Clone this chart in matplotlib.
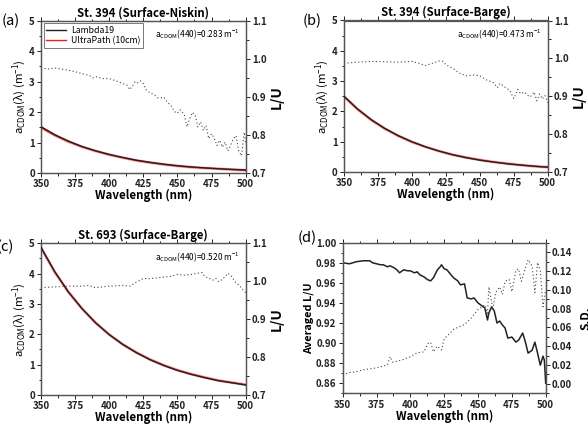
import numpy as np
import matplotlib
matplotlib.use("Agg")
import matplotlib.pyplot as plt
from matplotlib.ticker import MultipleLocator

plt.rcParams['font.family'] = ['Noto Sans CJK JP', 'DejaVu Sans']
plt.rcParams['mathtext.fontset'] = 'custom'
plt.rcParams['mathtext.rm'] = 'Noto Sans CJK JP'
plt.rcParams['mathtext.it'] = 'Noto Sans CJK JP'
plt.rcParams['mathtext.bf'] = 'Noto Sans CJK JP:bold'

# ---------------- data ----------------
wl = [350, 360, 370, 380, 390, 400, 410, 420, 430, 440, 450, 460, 470, 480, 490, 500]

a_lambda_a = [1.52, 1.26, 1.05, 0.87, 0.73, 0.61, 0.51, 0.42, 0.35, 0.29, 0.24, 0.20, 0.17, 0.14, 0.12, 0.10]
a_ultra_a = [1.49, 1.24, 1.03, 0.86, 0.72, 0.60, 0.50, 0.41, 0.34, 0.28, 0.23, 0.19, 0.16, 0.14, 0.11, 0.09]
a_lambda_b = [2.50, 2.08, 1.73, 1.44, 1.20, 1.00, 0.83, 0.69, 0.57, 0.47, 0.39, 0.33, 0.27, 0.23, 0.19, 0.16]
a_ultra_b = [2.49, 2.07, 1.72, 1.43, 1.19, 0.99, 0.83, 0.69, 0.57, 0.48, 0.40, 0.33, 0.28, 0.23, 0.19, 0.16]
a_lambda_c = [4.87, 4.07, 3.40, 2.85, 2.38, 1.99, 1.66, 1.39, 1.16, 0.97, 0.81, 0.68, 0.57, 0.47, 0.40, 0.33]
a_ultra_c = [4.85, 4.06, 3.40, 2.85, 2.38, 1.99, 1.67, 1.40, 1.17, 0.98, 0.82, 0.69, 0.58, 0.48, 0.41, 0.34]

wl_lu_a = [350, 355, 360, 365, 370, 375, 380, 385, 388, 390, 395, 400, 405, 410, 413, 415, 417, 419,
           421, 423, 425, 427, 430, 433, 436, 440, 443, 445, 448, 450, 452, 455, 457, 459, 461, 463,
           465, 467, 469, 471, 473, 475, 477, 479, 481, 483, 485, 487, 489, 491, 493, 495, 497, 499, 500]
lu_a = [0.976, 0.973, 0.976, 0.973, 0.970, 0.966, 0.961, 0.957, 0.950, 0.953, 0.948, 0.948, 0.942,
        0.935, 0.931, 0.919, 0.928, 0.940, 0.937, 0.942, 0.935, 0.919, 0.910, 0.906, 0.897, 0.899,
        0.884, 0.879, 0.861, 0.857, 0.866, 0.854, 0.821, 0.843, 0.859, 0.852, 0.821, 0.834, 0.812,
        0.825, 0.790, 0.803, 0.792, 0.772, 0.786, 0.768, 0.781, 0.758, 0.772, 0.790, 0.798, 0.758,
        0.745, 0.807, 0.780]

wl_lu_b = [350, 360, 370, 380, 390, 400, 405, 410, 415, 420, 423, 425, 430, 435, 440, 445, 450, 455,
           460, 463, 465, 468, 472, 475, 478, 480, 483, 485, 487, 490, 492, 494, 496, 498, 500]
lu_b = [0.987, 0.990, 0.992, 0.991, 0.990, 0.992, 0.987, 0.981, 0.987, 0.993, 0.992, 0.983, 0.974,
        0.961, 0.954, 0.956, 0.954, 0.943, 0.936, 0.923, 0.934, 0.925, 0.916, 0.894, 0.918, 0.907,
        0.911, 0.903, 0.898, 0.911, 0.888, 0.906, 0.893, 0.902, 0.883]

wl_lu_c = [350, 360, 370, 380, 385, 390, 400, 410, 415, 420, 425, 430, 440, 445, 450, 455, 460, 465,
           468, 470, 473, 476, 478, 480, 482, 485, 487, 490, 492, 495, 498, 500]
lu_c = [0.983, 0.985, 0.987, 0.987, 0.989, 0.983, 0.987, 0.989, 0.987, 0.998, 1.007, 1.007, 1.011,
        1.013, 1.018, 1.016, 1.018, 1.021, 1.023, 1.012, 1.008, 1.003, 1.008, 0.999, 1.003, 1.012,
        1.021, 1.012, 0.999, 0.990, 0.977, 0.970]

wl_d = [350, 355, 360, 365, 370, 372, 375, 378, 380, 383, 385, 388, 390, 392, 395, 398, 400, 403,
        405, 407, 410, 413, 415, 417, 420, 422, 423, 425, 427, 430, 432, 435, 437, 440, 442, 445,
        447, 450, 453, 455, 457, 458, 460, 462, 464, 466, 468, 470, 472, 475, 478, 480, 483, 485,
        487, 490, 492, 494, 496, 498, 499, 500]
avg_lu_d = [0.980, 0.979, 0.981, 0.982, 0.982, 0.980, 0.979, 0.978, 0.978, 0.976, 0.977, 0.975,
            0.973, 0.970, 0.973, 0.972, 0.972, 0.970, 0.971, 0.968, 0.966, 0.963, 0.962, 0.965,
            0.973, 0.976, 0.978, 0.974, 0.973, 0.968, 0.965, 0.962, 0.958, 0.959, 0.945, 0.944,
            0.945, 0.940, 0.937, 0.935, 0.923, 0.930, 0.936, 0.932, 0.920, 0.922, 0.918, 0.915,
            0.905, 0.906, 0.901, 0.903, 0.910, 0.901, 0.890, 0.893, 0.901, 0.890, 0.878, 0.887,
            0.883, 0.860]

wl_sd = [350, 355, 360, 365, 370, 375, 380, 383, 385, 387, 390, 395, 400, 405, 410, 413, 415, 417,
         420, 423, 425, 428, 432, 435, 440, 445, 450, 453, 455, 457, 458, 461, 463, 466, 468, 470,
         473, 475, 478, 480, 482, 485, 487, 490, 492, 494, 496, 498, 500]
sd_d = [0.0096, 0.012, 0.013, 0.015, 0.016, 0.017, 0.019, 0.020, 0.029, 0.023, 0.024, 0.026, 0.029,
        0.033, 0.034, 0.043, 0.044, 0.034, 0.040, 0.036, 0.048, 0.052, 0.058, 0.060, 0.063, 0.070,
        0.079, 0.082, 0.084, 0.075, 0.103, 0.079, 0.097, 0.103, 0.095, 0.109, 0.111, 0.098, 0.121,
        0.122, 0.109, 0.123, 0.132, 0.125, 0.097, 0.129, 0.121, 0.082, 0.100]

titles = ["St. 394 (Surface-Niskin)", "St. 394 (Surface-Barge)", "St. 693 (Surface-Barge)"]
annots = ["0.283", "0.473", "0.520"]
panel_letters = ["(a)", "(b)", "(c)", "(d)"]
x_ticks = [350, 375, 400, 425, 450, 475, 500]

# ---------------- figure ----------------
fig = plt.figure(figsize=(5.88, 4.28), dpi=100)
rects = [
    [41 / 588, 1 - 173 / 428, 204.6 / 588, 152.3 / 428],
    [344 / 588, 1 - 172 / 428, 203.7 / 588, 151.5 / 428],
    [41 / 588, 1 - 395 / 428, 204.7 / 588, 151.7 / 428],
    [342.7 / 588, 1 - 393.3 / 428, 203 / 588, 150.6 / 428],
]
spine_col = '#555555'
dot_style = (0, (1, 2.2))
tick_fs = 7
xlab_fs = 8.3
title_fs = 8.2
bold = 'bold'


def style_ax(ax):
    for s in ax.spines.values():
        s.set_color(spine_col)
        s.set_linewidth(0.9)
    ax.tick_params(axis='both', which='both', direction='out', labelsize=tick_fs,
                   colors='#222222', width=0.7, pad=1.5)
    ax.tick_params(which='major', length=3)
    ax.tick_params(which='minor', length=1.8)
    for lab in ax.get_xticklabels() + ax.get_yticklabels():
        lab.set_fontweight(bold)


data_l = [(a_lambda_a, a_ultra_a), (a_lambda_b, a_ultra_b), (a_lambda_c, a_ultra_c)]
data_lu = [(wl_lu_a, lu_a), (wl_lu_b, lu_b), (wl_lu_c, lu_c)]

for i in range(3):
    ax = fig.add_axes(rects[i])
    ax2 = ax.twinx()
    ax.set_zorder(ax2.get_zorder() + 1)
    ax.patch.set_visible(False)
    l1, = ax.plot(wl, data_l[i][0], color='#222222', lw=1.0, zorder=3, label='Lambda19')
    l2, = ax.plot(wl, data_l[i][1], color='#e8211f', lw=1.0, zorder=2, label='UltraPath (10cm)')
    ax.plot(wl, data_l[i][1], color='#f08080', lw=2.2, zorder=1, alpha=0.6)
    ax2.plot(data_lu[i][0], data_lu[i][1], color='#444444', lw=0.8, linestyle=dot_style)
    ax.set_xlim(350, 500)
    ax.set_ylim(0, 5)
    ax2.set_ylim(0.7, 1.1)
    ax.set_xticks(x_ticks)
    ax.xaxis.set_minor_locator(MultipleLocator(12.5))
    ax.yaxis.set_major_locator(MultipleLocator(1))
    ax.yaxis.set_minor_locator(MultipleLocator(0.5))
    ax2.set_yticks([0.7, 0.8, 0.9, 1.0, 1.1])
    ax2.set_yticklabels(['0.7', '0.8', '0.9', '1.0', '1.1'])
    ax2.yaxis.set_minor_locator(MultipleLocator(0.05))
    ax.tick_params(top=True, which='both')
    style_ax(ax)
    style_ax(ax2)
    ax.set_xlabel('Wavelength (nm)', fontsize=xlab_fs, fontweight=bold, labelpad=0)
    ax.set_ylabel(r'a$_{\mathrm{CDOM}}$(λ) (m$^{-1}$)', fontsize=8.2, labelpad=1)
    ax2.set_ylabel('L/U', fontsize=10, fontweight=bold, labelpad=2)
    ax.set_title(titles[i], fontsize=title_fs, fontweight=bold, pad=3)
    ax.text(0.97, 0.955, r'a$_{\mathrm{CDOM}}$(440)=' + annots[i] + r' m$^{-1}$',
            transform=ax.transAxes, ha='right', va='top', fontsize=6)
    if i == 0:
        leg = ax.legend(handles=[l1, l2], loc='upper left', fontsize=6.3, frameon=True,
                        fancybox=False, edgecolor='#555555', borderpad=0.3,
                        handlelength=2.2, handletextpad=0.6, labelspacing=0.15,
                        borderaxespad=0.3)
        leg.get_frame().set_linewidth(0.7)

# panel d
axd = fig.add_axes(rects[3])
axd2 = axd.twinx()
axd.plot(wl_d, avg_lu_d, color='#222222', lw=1.1)
axd2.plot(wl_sd, sd_d, color='#444444', lw=0.8, linestyle=dot_style)
axd.set_xlim(350, 500)
axd.set_ylim(0.85, 1.00)
axd2.set_ylim(-0.01, 0.15)
axd.set_xticks(x_ticks)
axd.xaxis.set_minor_locator(MultipleLocator(12.5))
axd.set_yticks([0.86, 0.88, 0.90, 0.92, 0.94, 0.96, 0.98, 1.00])
axd.set_yticklabels(['0.86', '0.88', '0.90', '0.92', '0.94', '0.96', '0.98', '1.00'])
axd.yaxis.set_minor_locator(MultipleLocator(0.01))
axd2.set_yticks([0.0, 0.02, 0.04, 0.06, 0.08, 0.10, 0.12, 0.14])
axd2.set_yticklabels(['0.00', '0.02', '0.04', '0.06', '0.08', '0.10', '0.12', '0.14'])
axd2.yaxis.set_minor_locator(MultipleLocator(0.01))
axd.tick_params(top=True, which='both')
style_ax(axd)
style_ax(axd2)
axd.set_xlabel('Wavelength (nm)', fontsize=xlab_fs, fontweight=bold, labelpad=0)
axd.set_ylabel('Averaged L/U', fontsize=7.8, fontweight=bold, labelpad=1)
axd2.set_ylabel('S.D.', fontsize=8.5, fontweight=bold, labelpad=5)

# panel letters
letter_pos = [(2, 21), (303, 21), (-3, 247), (298, 238)]
for (px, py), t in zip(letter_pos, panel_letters):
    fig.text(px / 588, 1 - py / 428, t, fontsize=10.5, ha='left', va='center')

fig.savefig('out.png', dpi=100)
